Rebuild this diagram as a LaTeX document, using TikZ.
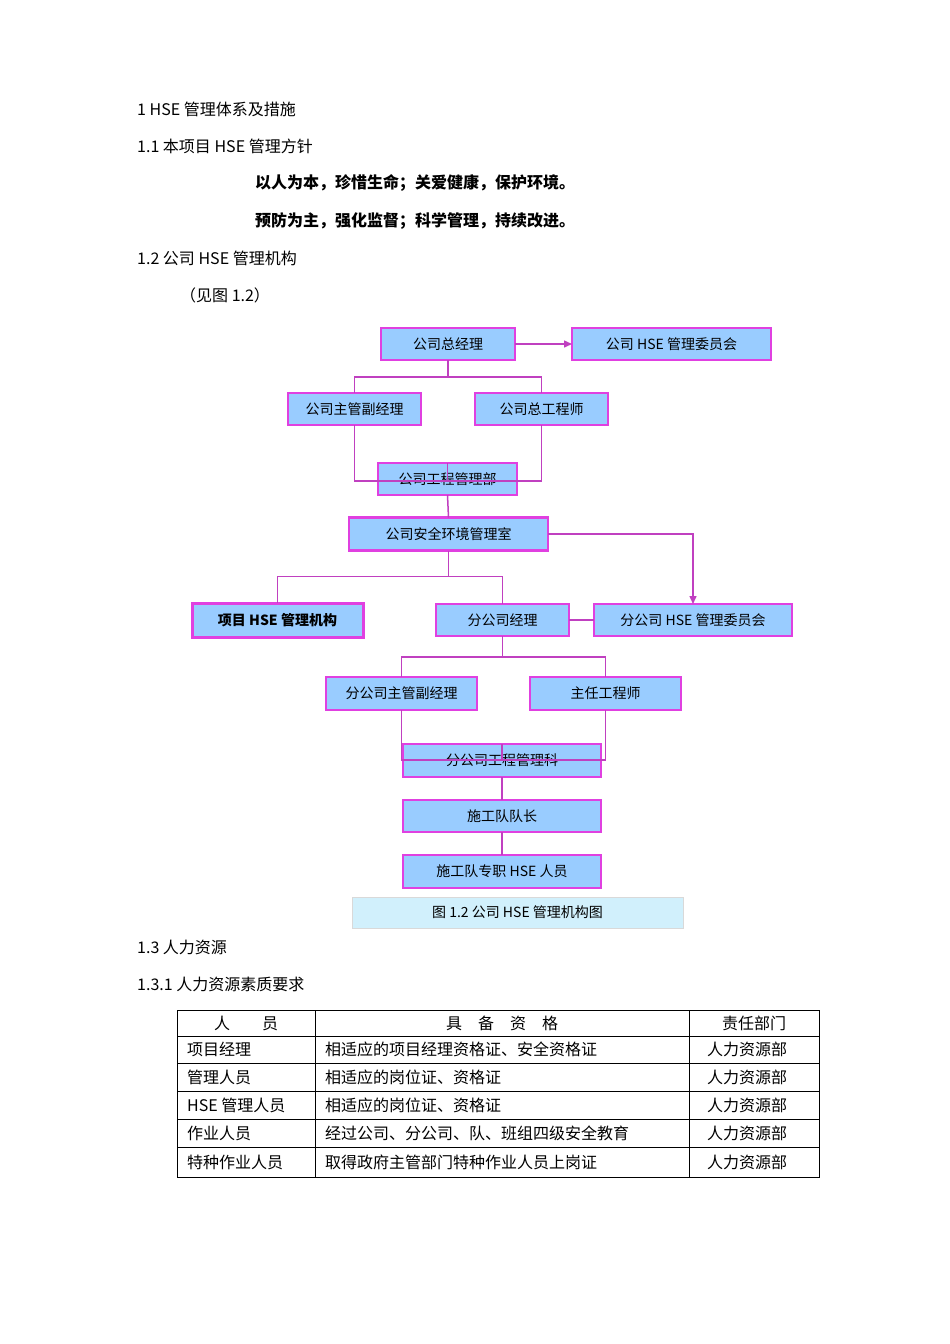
\documentclass[tikz,border=0pt]{standalone}
\usepackage{fontspec}
\setmainfont{Noto Sans CJK SC}
\usetikzlibrary{arrows.meta}
\definecolor{boxfill}{HTML}{99CCFF}
\definecolor{boxline}{HTML}{E040E0}
\definecolor{conn}{HTML}{C040C0}
\tikzset{
  box/.style={draw=boxline,fill=boxfill,line width=1.5pt,inner sep=0pt,outer sep=0pt,font=\fontsize{14}{16}\selectfont},
  thickbox/.style={box,line width=3pt},
  link/.style={draw=conn,line width=1.5pt},
  arr/.style={link,-{Triangle[length=8pt,width=7pt]}},
  txt/.style={anchor=west,inner sep=0pt,font=\fontsize{16}{18}\selectfont},
  cell/.style={anchor=west,inner sep=0pt,font=\fontsize{16}{18}\selectfont}
}
\begin{document}
\begin{tikzpicture}[x=1pt,y=-1pt]
\useasboundingbox (0,0) rectangle (950,1344);
\node[txt] (t1) at (137,109) {1 HSE 管理体系及措施};
\node[txt] (t2) at (137,146) {1.1 本项目 HSE 管理方针};
\node[txt,font=\fontsize{16}{18}\selectfont\bfseries] (t3) at (255,183) {以人为本，珍惜生命；关爱健康，保护环境。};
\node[txt,font=\fontsize{16}{18}\selectfont\bfseries] (t4) at (255,221) {预防为主，强化监督；科学管理，持续改进。};
\node[txt] (t5) at (137,258) {1.2 公司 HSE 管理机构};
\node[txt] (t6) at (180,295) {（见图 1.2）};

\node[box,minimum width=134,minimum height=32] (gm) at (448,344) {公司总经理};
\node[box,minimum width=199,minimum height=32] (comm) at (671.5,344) {公司 HSE 管理委员会};
\node[box,minimum width=133,minimum height=32] (dep) at (354.5,409) {公司主管副经理};
\node[box,minimum width=133,minimum height=32] (chief) at (541.5,409) {公司总工程师};
\node[box,minimum width=139,minimum height=32] (eng) at (447.5,479) {公司工程管理部};
\node[box,line width=2.2pt,minimum width=199,minimum height=33] (safe) at (448.5,534) {公司安全环境管理室};
\node[thickbox,minimum width=171,minimum height=34,font=\fontsize{14}{16}\selectfont\bfseries] (proj) at (277.5,620) {项目 HSE 管理机构};
\node[box,minimum width=133,minimum height=32] (bm) at (502.5,620) {分公司经理};
\node[box,minimum width=198,minimum height=32] (bcomm) at (693,620) {分公司 HSE 管理委员会};
\node[box,minimum width=151,minimum height=33] (bdep) at (401.5,693.5) {分公司主管副经理};
\node[box,minimum width=151,minimum height=33] (ceng) at (605.5,693.5) {主任工程师};
\node[box,minimum width=198,minimum height=33] (beng) at (502,760.5) {分公司工程管理科};
\node[box,minimum width=198,minimum height=32] (lead) at (502,816) {施工队队长};
\node[box,minimum width=198,minimum height=33] (staff) at (502,871.5) {施工队专职 HSE 人员};
\node[draw=black!15,fill=cyan!18,minimum width=331,minimum height=31,inner sep=0pt,font=\fontsize{14}{16}\selectfont] (cap) at (517.5,912.5) {图 1.2 公司 HSE 管理机构图};

\draw[arr] (gm.east) -- (comm.west);
\draw[link] (gm.south) -- ++(0,17) coordinate (j1);
\draw[link] (dep.north) |- (j1) -| (chief.north);
\draw[link] (dep.south) |- ([yshift=-18pt]eng.north) coordinate (j2) -| (chief.south);
\draw[link] (eng.north) -- (j2);
\draw[link] (eng.south) -- (safe.north);
\draw[arr] (safe.east) -| (bcomm.north);
\draw[link] (safe.south) -- ++(0,26) coordinate (j3);
\draw[link] (proj.north) |- (j3) -| (bm.north);
\draw[link] (bm.east) -- (bcomm.west);
\draw[link] (bm.south) -- ++(0,21) coordinate (j4);
\draw[link] (bdep.north) |- (j4) -| (ceng.north);
\draw[link] (bdep.south) |- ([yshift=-16pt]beng.north) coordinate (j5) -| (ceng.south);
\draw[link] (beng.north) -- (j5);
\draw[link] (beng.south) -- (lead.north);
\draw[link] (lead.south) -- (staff.north);

\node[txt] (t7) at (137,947) {1.3 人力资源};
\node[txt] (t8) at (137,984) {1.3.1 人力资源素质要求};

% table
\draw[line width=0.8pt] (177,1010) rectangle (819,1177);
\foreach \y in {1036,1063,1091,1119,1147} \draw[line width=0.6pt] (177,\y) -- (819,\y);
\foreach \x in {315,689} \draw[line width=0.6pt] (\x,1010) -- (\x,1177);
\node[inner sep=0pt,font=\fontsize{16}{18}\selectfont] (h1) at (246,1023) {人\hspace{2em}员};
\node[inner sep=0pt,font=\fontsize{16}{18}\selectfont] (h2) at (502,1023) {具\hspace{1em}备\hspace{1em}资\hspace{1em}格};
\node[inner sep=0pt,font=\fontsize{16}{18}\selectfont] (h3) at (754,1023) {责任部门};
\node[cell] (a1) at (187,1049) {项目经理};
\node[cell] (b1) at (325,1049) {相适应的项目经理资格证、安全资格证};
\node[cell] (c1) at (707,1049) {人力资源部};
\node[cell] (a2) at (187,1077) {管理人员};
\node[cell] (b2) at (325,1077) {相适应的岗位证、资格证};
\node[cell] (c2) at (707,1077) {人力资源部};
\node[cell] (a3) at (187,1105) {HSE 管理人员};
\node[cell] (b3) at (325,1105) {相适应的岗位证、资格证};
\node[cell] (c3) at (707,1105) {人力资源部};
\node[cell] (a4) at (187,1133) {作业人员};
\node[cell] (b4) at (325,1133) {经过公司、分公司、队、班组四级安全教育};
\node[cell] (c4) at (707,1133) {人力资源部};
\node[cell] (a5) at (187,1162) {特种作业人员};
\node[cell] (b5) at (325,1162) {取得政府主管部门特种作业人员上岗证};
\node[cell] (c5) at (707,1162) {人力资源部};
\end{tikzpicture}
\end{document}
